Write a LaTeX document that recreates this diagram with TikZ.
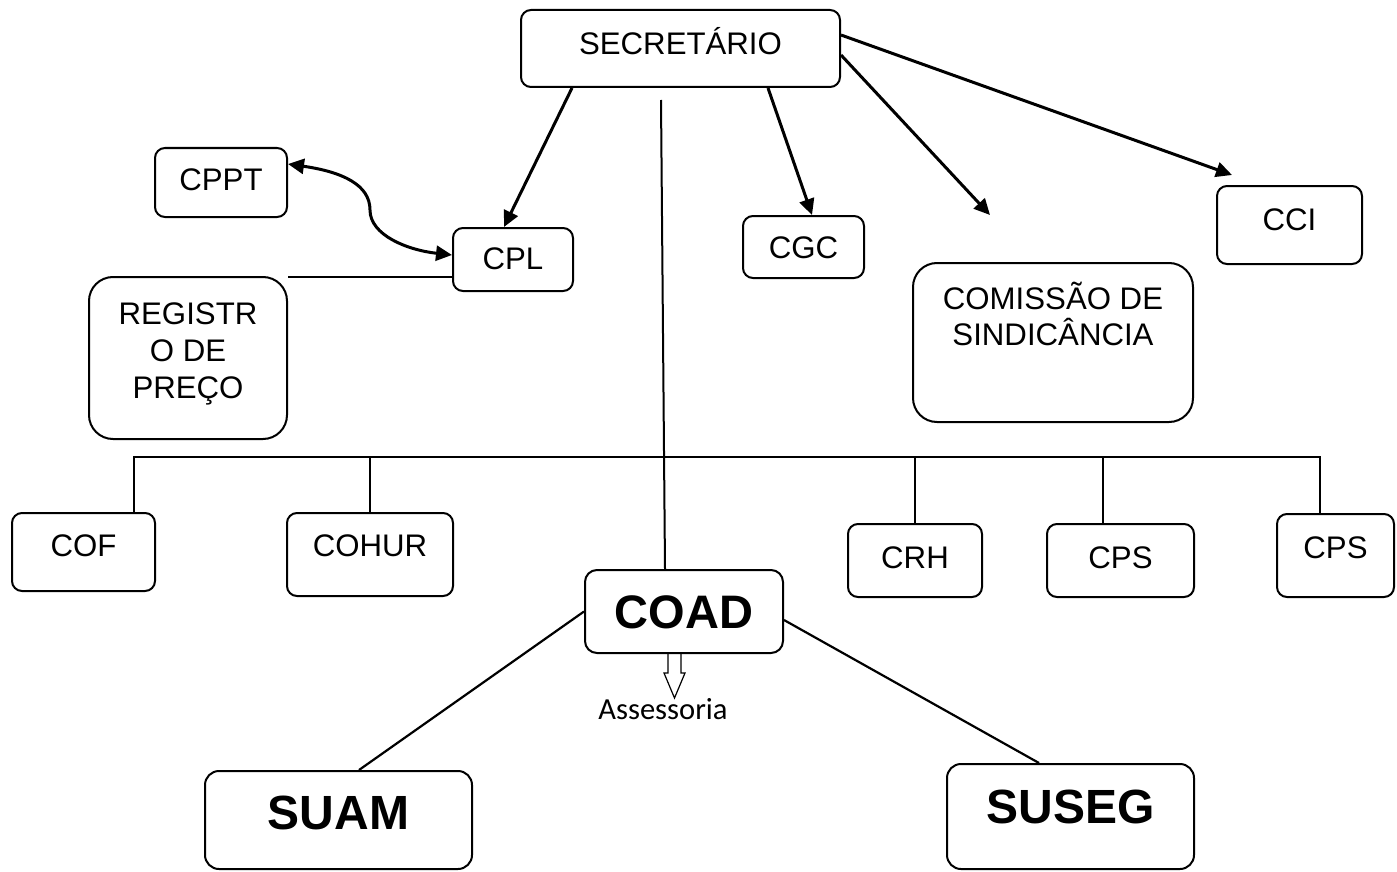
\documentclass[tikz,border=0pt]{standalone}
\usepackage{fontspec}
\setmainfont{Liberation Sans}
\newfontfamily\calib{Carlito}
\usetikzlibrary{arrows.meta}
\begin{document}
\begin{tikzpicture}[x=0.5pt,y=-0.5pt,
  box/.style={draw, line width=1pt, rounded corners=5pt, inner sep=0pt,
    text height=11.17pt, text depth=0pt, font=\fontsize{15.6}{18.7}\selectfont},
  bigbox/.style={draw, line width=1pt, rounded corners=12pt, inner sep=0pt,
    font=\fontsize{15.6}{18.7}\selectfont},
  boldbox/.style={draw, line width=1pt, rounded corners=7pt, inner sep=0pt,
    text height=17.2pt, text depth=0pt, font=\fontsize{24}{28}\selectfont\bfseries},
  arr/.style={line width=1.5pt, -{Triangle[length=8pt,width=7.5pt]}},
  biarr/.style={line width=1.5pt, {Triangle[length=8pt,width=7.5pt]}-{Triangle[length=8pt,width=7.5pt]}},
  link/.style={line width=1pt},
  sublink/.style={line width=1.1pt},
  hollow/.style={line width=0.6pt, line join=miter},
]
\useasboundingbox (0,0) rectangle (1397,872);

% top level
\node[box, minimum width=159.5pt, minimum height=38.5pt] (sec) at (680.5,48.5) {\raisebox{2.75pt}{SECRETÁRIO}};

% second level
\node[box, minimum width=66pt, minimum height=34.5pt] (cppt) at (221,182.5) {\raisebox{1.75pt}{CPPT}};
\node[box, minimum width=60pt, minimum height=31.5pt] (cpl) at (513,259.5) {\raisebox{0.75pt}{CPL}};
\node[bigbox, minimum width=99pt, minimum height=81pt] (reg) at (188,358)
  {\raisebox{2pt}[\height][\depth]{\begin{tabular}{@{}c@{}}REGISTR\\O DE\\PREÇO\end{tabular}}};
\node[box, minimum width=60.5pt, minimum height=31pt] (cgc) at (803.5,247) {CGC};
\node[bigbox, minimum width=140pt, minimum height=79.5pt] (com) at (1053,342.5)
  {\raisebox{11.5pt}[\height][\depth]{\begin{tabular}{@{}c@{}}COMISSÃO DE\\[-1.2pt]SINDICÂNCIA\end{tabular}}};
\node[box, minimum width=72.5pt, minimum height=39pt] (cci) at (1289.5,225) {\raisebox{3pt}{CCI}};

% third level
\node[box, minimum width=71.5pt, minimum height=39pt] (cof) at (83.5,552) {\raisebox{3.5pt}{COF}};
\node[box, minimum width=83pt, minimum height=41.5pt] (cohur) at (370,554.5) {\raisebox{4.75pt}{COHUR}};
\node[box, minimum width=67pt, minimum height=36.5pt] (crh) at (915,560.5) {\raisebox{1.75pt}{CRH}};
\node[box, minimum width=73.5pt, minimum height=36.5pt] (cps1) at (1120.5,560.5) {\raisebox{1.75pt}{CPS}};
\node[box, minimum width=58.5pt, minimum height=41.5pt] (cps2) at (1335.5,555.5) {\raisebox{4.25pt}{CPS}};

% COAD and below
\node[boldbox, minimum width=99pt, minimum height=41.5pt, text height=16.8pt,
  font=\fontsize{23.5}{28}\selectfont\bfseries, rounded corners=6pt] (coad) at (684,611.5) {COAD};
\node[boldbox, minimum width=133.5pt, minimum height=49pt] (suam) at (338.5,820) {\raisebox{4pt}{SUAM}};
\node[boldbox, minimum width=123.5pt, minimum height=52.5pt] (suseg) at (1070.5,816.5) {\raisebox{5.25pt}{SUSEG}};
\node[anchor=base, inner sep=0pt, font=\calib\fontsize{15.3}{18}\selectfont] (ass) at (663,719) {Assessoria};

% arrows from SECRETARIO
\coordinate (a3end) at (990,215);
\draw[arr] ([xshift=26pt]sec.south west) -- ([xshift=26pt]cpl.north west);
\draw[arr] ([xshift=124pt]sec.south west) -- ([xshift=35pt]cgc.north west);
\draw[arr] ([yshift=-3.25pt]sec.east) -- (a3end);
\draw[arr] ([yshift=6.75pt]sec.east) -- ([xshift=8pt,yshift=5pt]cci.north west);

% CPPT <-> CPL
\coordinate (cmid) at (370,210);
\draw[biarr] ([yshift=9.25pt]cppt.east) .. controls +(55,8) and +(0,-25) .. (cmid)
  .. controls +(0,25) and +(-45,-5) .. ([yshift=2.25pt]cpl.west);
% CPL -- REGISTRO
\draw[link] ([yshift=-8.75pt]cpl.west) -- ([yshift=-0.5pt]reg.north east);

% long line to COAD
\coordinate (vtop) at (661,100);
\draw[link] (vtop) -- ([xshift=40.5pt]coad.north west);

% bus
\coordinate (bus) at (0,457);
\coordinate (dcof) at ([xshift=-11pt]cof.north east);
\coordinate (dcps1) at ([xshift=-8.75pt]cps1.north);
\coordinate (dcps2) at ([xshift=-7.75pt]cps2.north);
\draw[link] (dcof) -- (dcof |- bus) -- (dcps2 |- bus) -- (dcps2);
\draw[link] (cohur.north) -- (cohur.north |- bus);
\draw[link] (crh.north) -- (crh.north |- bus);
\draw[link] (dcps1) -- (dcps1 |- bus);

% COAD to SUAM / SUSEG
\draw[sublink] (coad.west) -- ([xshift=77.5pt]suam.north west);
\draw[sublink] ([yshift=-4.25pt]coad.east) -- ([xshift=46.5pt]suseg.north west);

% hollow arrow to Assessoria
\coordinate (as) at ([xshift=-4.75pt]coad.south);
\draw[hollow] (as) ++(-6.5,0) -- ++(0,19) -- ++(-4,0) -- ++(10.5,25) -- ++(10.5,-25) -- ++(-4,0) -- ++(0,-19);
\end{tikzpicture}
\end{document}
